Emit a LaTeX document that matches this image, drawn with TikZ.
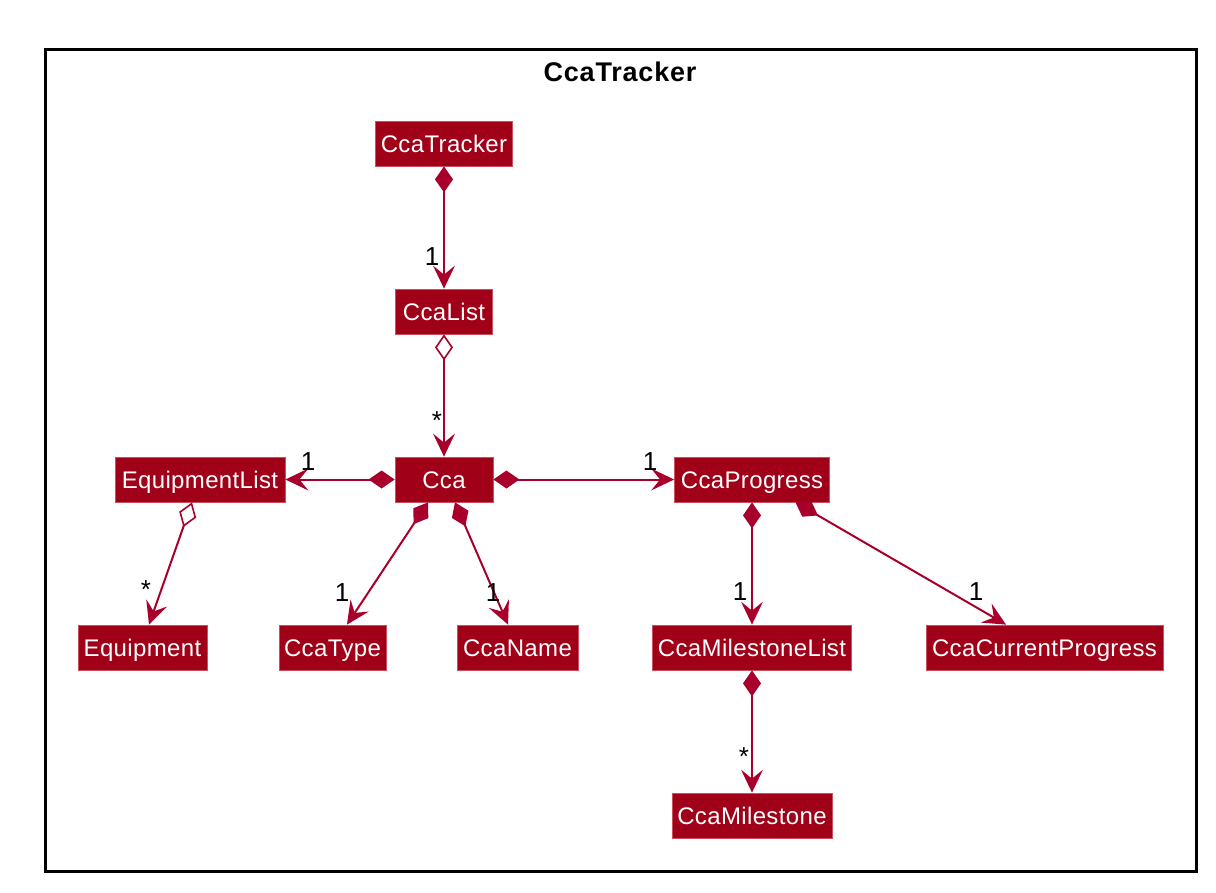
\documentclass[tikz,border=0pt]{standalone}
\usepackage{fontspec}
\setmainfont{Liberation Sans}
\usetikzlibrary{arrows.meta,calc}
\definecolor{boxred}{HTML}{A00018}
\definecolor{boxedge}{HTML}{C8505F}
\definecolor{linered}{HTML}{A8002A}

\begin{document}
\begin{tikzpicture}[x=1pt,y=-1pt,
  cls/.style={fill=boxred, draw=boxedge, line width=0.8pt, text=white,
    font=\fontsize{24}{28}\selectfont\addfontfeature{LetterSpace=1.5},
    minimum height=45pt, inner sep=0pt, text height=20pt, text depth=2pt},
  mult/.style={font=\fontsize{26}{30}\selectfont, inner sep=0pt},
  link/.style={draw=linered, line width=2pt},
  comp/.style={link, {Diamond[length=26pt,width=18pt,fill=linered,line width=0pt]}-{Stealth[length=23pt,width=22pt,inset=9pt,line width=0pt]}},
  aggr/.style={link, {Diamond[length=26pt,width=18pt,fill=white,line width=1.6pt]}-{Stealth[length=23pt,width=22pt,inset=9pt,line width=0pt]}}
]
\useasboundingbox (0,0) rectangle (1216,892);

% package frame and its title
\draw[line width=3pt] (45,49) rectangle (1196,871.5);
\node[font=\bfseries\fontsize{27}{32}\selectfont\addfontfeature{LetterSpace=3}] (title) at (620,72) {CcaTracker};

% classes
\node[cls, minimum width=137pt] (tracker)   at (444,143.5) {CcaTracker};
\node[cls, minimum width=97pt]  (list)      at (444,311.5) {CcaList};
\node[cls, minimum width=98pt]  (cca)       at (444,479.5) {Cca};
\node[cls, minimum width=170pt] (eqlist)    at (200,479.5) {EquipmentList};
\node[cls, minimum width=129pt] (equip)     at (142.5,647.5) {Equipment};
\node[cls, minimum width=107pt] (ccatype)   at (332.5,647.5) {CcaType};
\node[cls, minimum width=121pt] (ccaname)   at (517.5,647.5) {CcaName};
\node[cls, minimum width=155pt] (progress)  at (752,479.5) {CcaProgress};
\node[cls, minimum width=199pt] (mslist)    at (752,647.5) {CcaMilestoneList};
\node[cls, minimum width=237pt] (current)   at (1044.5,647.5) {CcaCurrentProgress};
\node[cls, minimum width=160pt] (milestone) at (752,815.5) {CcaMilestone};

% relations
\draw[comp] (tracker.south) -- (list.north);
\draw[aggr] (list.south) -- (cca.north);
\draw[comp] (cca.west) -- (eqlist.east);
\draw[comp] (cca.east) -- (progress.west);
\draw[aggr] ($(eqlist.south)+(-8,0)$) -- ($(equip.north)+(6.5,0)$);
\draw[comp] ($(cca.south)+(-16,0)$) -- ($(ccatype.north)+(14.5,0)$);
\draw[comp] ($(cca.south)+(11,0)$) -- ($(ccaname.north)+(-9.5,0)$);
\draw[comp] (progress.south) -- (mslist.north);
\draw[comp] ($(progress.south)+(43.5,0)$) -- ($(current.north)+(-38.5,0)$);
\draw[comp] (mslist.south) -- (milestone.north);

% multiplicities
\node[mult] (mList)      at (432,257) {1};
\node[mult] (mCca)       at (437,421) {*};
\node[mult] (mEqList)    at (308,462) {1};
\node[mult] (mProgress)  at (650,462) {1};
\node[mult] (mEquip)     at (146,590) {*};
\node[mult] (mType)      at (342,593) {1};
\node[mult] (mName)      at (493,593) {1};
\node[mult] (mMsList)    at (740,592) {1};
\node[mult] (mCurrent)   at (976,592) {1};
\node[mult] (mMilestone) at (744,757) {*};
\end{tikzpicture}
\end{document}
